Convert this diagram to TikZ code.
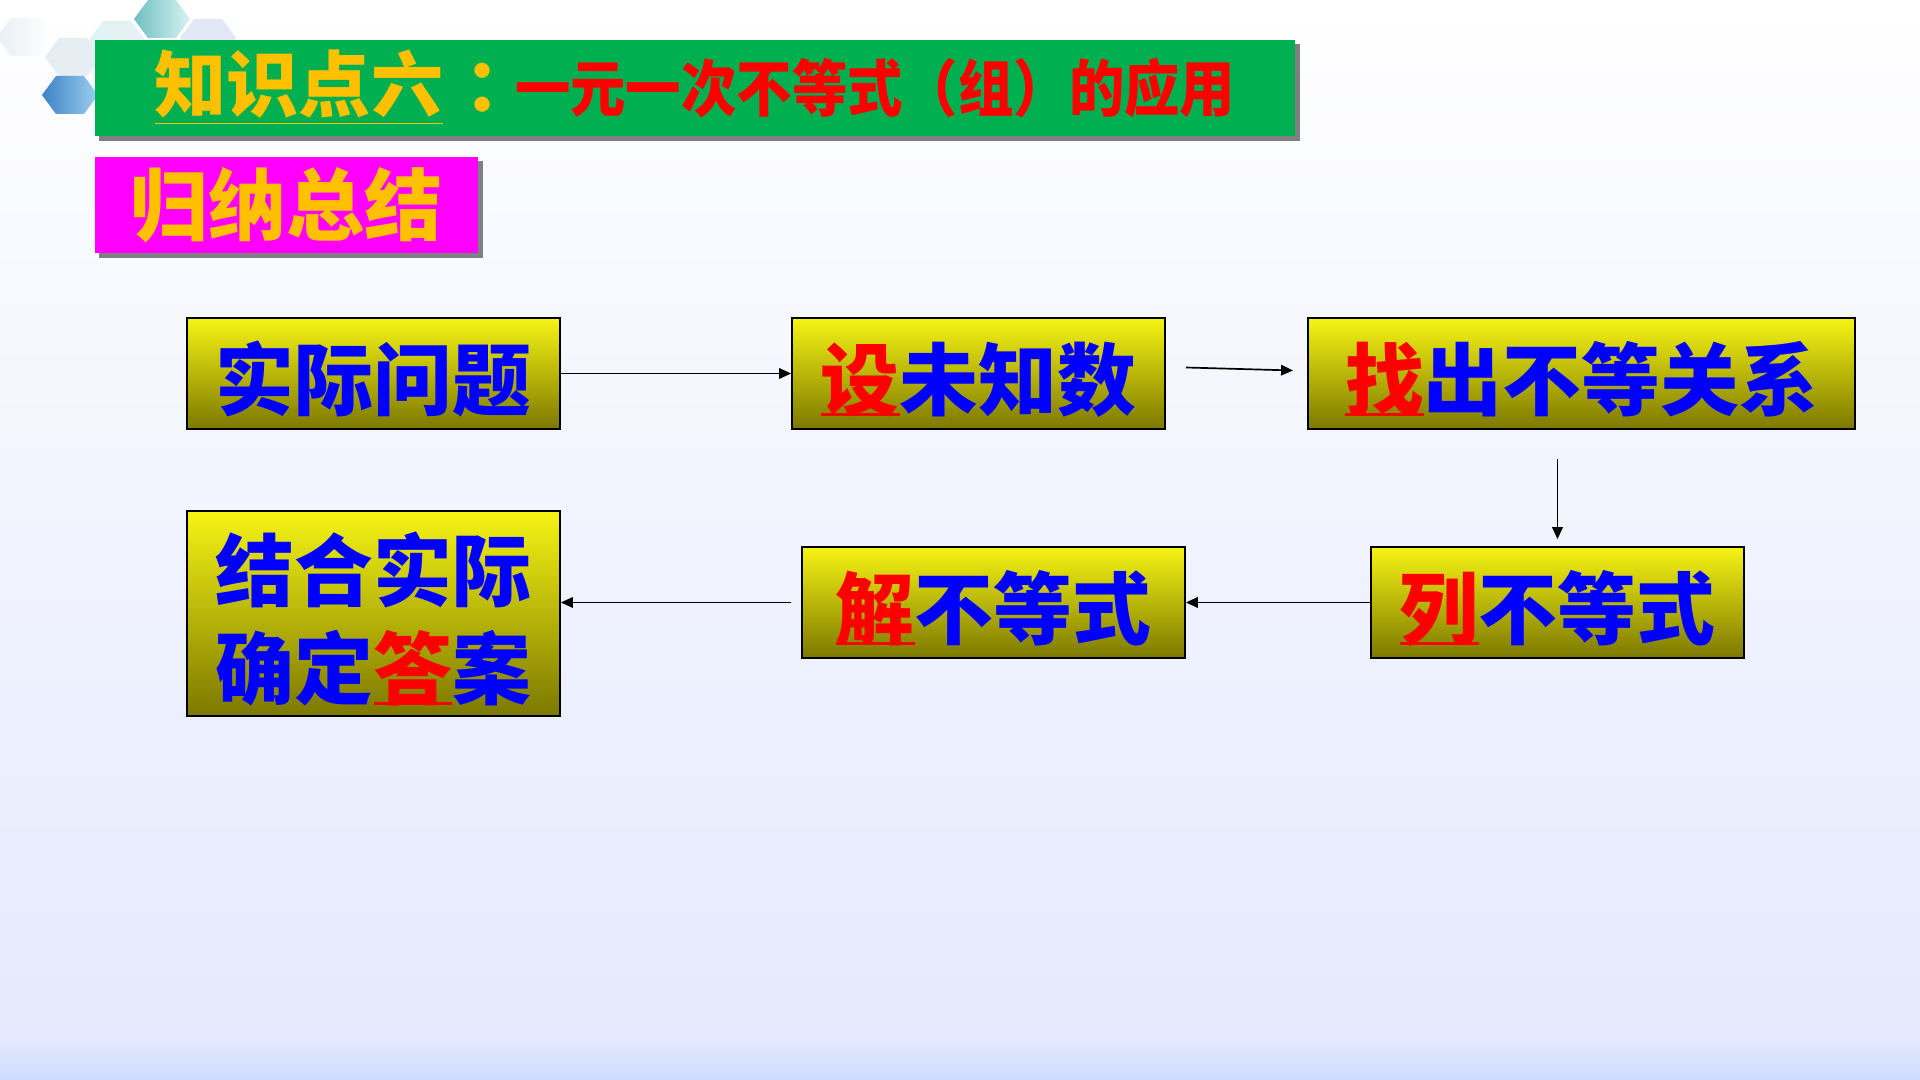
\documentclass[tikz,border=0pt]{standalone}
\usepackage{fontspec}
\newfontfamily\cjk{Noto Sans CJK SC}
\newfontfamily\cjknarrow{Noto Sans CJK SC}[FakeStretch=0.9]
\usepackage{tikz}
\usetikzlibrary{
  shapes.geometric, arrows.meta, positioning,
  calc, shadows
}
\definecolor{barGreen}{HTML}{00B050}
\definecolor{barPink}{HTML}{FF00FF}
\definecolor{ttlYellow}{HTML}{FFC000}
\definecolor{boxTop}{HTML}{F6F414}
\definecolor{boxBot}{HTML}{7C7800}
\definecolor{txtBlue}{HTML}{0000FF}
\definecolor{bgBot}{HTML}{E4E9FD}
\definecolor{bgEdge}{HTML}{CEDBFD}
\definecolor{hexGray}{HTML}{E4ECF2}
\definecolor{hexTealA}{HTML}{6FC0C4}
\definecolor{hexTealB}{HTML}{D8F2F2}
\definecolor{hexBlueA}{HTML}{3D82C8}
\definecolor{hexBlueB}{HTML}{9CD0EC}
\definecolor{hexLav}{HTML}{DCE2F4}
\tikzstyle{box}  = [rectangle, draw=black, line width=0.45pt, top color=boxTop,
                    bottom color=boxBot, inner sep=0pt, align=center,
                    minimum width=3.73cm, minimum height=1.11cm, text=txtBlue,
                    text height=22pt, text depth=1.6pt,
                    font=\cjk\bfseries\fontsize{22.4}{28}\selectfont]
\tikzstyle{arr}  = [->,>={Triangle[length=3.4pt,width=3pt]},line width=0.48pt]
\newcommand{\hi}[1]{\textcolor{red}{\rlap{\rule[-0.085em]{1em}{0.045em}}#1}}

\begin{document}
\begin{tikzpicture}[x=0.01cm, y=-0.01cm,
    bar/.style={rectangle, fill=barGreen, minimum width=12cm, minimum height=0.96cm,
                inner sep=0pt,
                drop shadow={shadow xshift=0.045cm, shadow yshift=-0.045cm,
                             fill=gray, opacity=1}},
    sumbox/.style={rectangle, fill=barPink, minimum width=3.83cm, minimum height=0.96cm,
                   inner sep=0pt, text=ttlYellow,
                   font=\cjk\bfseries\fontsize{22.2}{26}\selectfont,
                   drop shadow={shadow xshift=0.045cm, shadow yshift=-0.045cm,
                                fill=gray, opacity=1}}]

  % background and corner hexagons
  \shade[top color=white, bottom color=bgBot] (0,0) rectangle (1920,1040);
  \shade[top color=bgBot, bottom color=bgEdge] (0,1040) rectangle (1920,1080);
  \useasboundingbox (0,0) rectangle (1920,1080);
  \foreach \cx/\cy/\ca/\cb/\op in {25/37/hexGray/white/0.8, 73/57/hexGray/hexGray/0.9,
      117/40/hexTealB/hexGray/0.8, 208/38/hexLav/hexLav/0.8,
      162/19/hexTealA/hexTealB/1, 70/95/hexBlueA/hexBlueB/1}
    \shade[left color=\ca, right color=\cb, opacity=\op]
      (\cx-28,\cy) -- (\cx-14,\cy-19) -- (\cx+14,\cy-19) -- (\cx+28,\cy)
      -- (\cx+14,\cy+19) -- (\cx-14,\cy+19) -- cycle;

  % headings
  \node[bar] (ttl) at (695,88)
    {\cjk\bfseries{\fontsize{20.5}{24}\selectfont\color{ttlYellow}%
       \underline{知识点六}\hspace{0.3em}：\hspace{-0.3em}}%
     {\cjknarrow\bfseries\fontsize{17.5}{22}\selectfont\color{red}一元一次不等式（组）的应用}};
  \node[sumbox] (sum) at (286.5,205) {归纳总结};

  % steps
  \node[box]                        (shiji) at (373.5,373.5)  {实际问题};
  \node[box]                        (she)   at (978.5,373.5)  {\hi{设}未知数};
  \node[box, minimum width=5.47cm]  (zhao)  at (1581.5,373.5) {\hi{找}出不等关系};
  \node[box]                        (lie)   at (1557.5,602.5) {\hi{列}不等式};
  \node[box, minimum width=3.83cm]  (jie)   at (993.5,602.5)  {\hi{解}不等式};
  \node[box, minimum height=2.05cm, text height=, text depth=]
                                    (daan)  at (373.5,613.5)
                                    {\rule{0pt}{22.5pt}结合实际\\确定\hi{答}案};

  \draw[arr] (shiji) -- (she);
  \draw[arr] ($(she.east)+(20,-6)$) -- ($(zhao.west)+(-14,-3)$);
  \draw[arr] ($(lie.north)+(0,-87)$) -- ($(lie.north)+(0,-7)$);
  \draw[arr] (lie) -- (jie);
  \draw[arr] ($(jie.west)+(-10,0)$) -- (daan.east |- jie.west);
\end{tikzpicture}
\end{document}
